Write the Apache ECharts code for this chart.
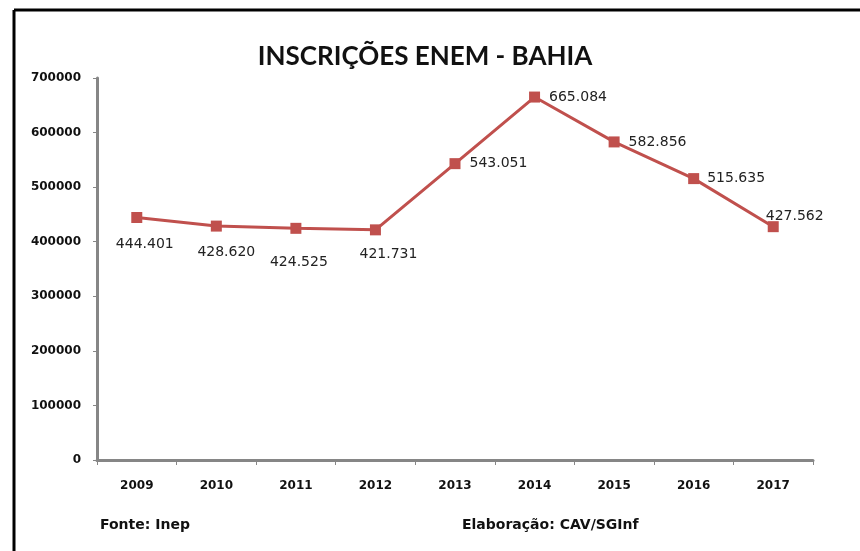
<!DOCTYPE html>
<html>
<head>
<meta charset="utf-8">
<script src="https://cdn.jsdelivr.net/npm/echarts@6/dist/echarts.min.js"></script>
<style>
html,body{margin:0;padding:0;background:#fff;}
#c{width:860px;height:551px;}
</style>
</head>
<body>
<div id="c"></div>
<script>
const categories = ['2009','2010','2011','2012','2013','2014','2015','2016','2017'];
const inscricoes = [444401, 428620, 424525, 421731, 543051, 665084, 582856, 515635, 427562];
const yTicks = [0,100000,200000,300000,400000,500000,600000,700000];
const titleText = 'INSCRIÇÕES ENEM - BAHIA';
const sourceText = 'Fonte: Inep';
const authorText = 'Elaboração: CAV/SGInf';

const TFONT = 'Lato, "Open Sans", sans-serif';
const FONT = '"DejaVu Sans", sans-serif';
const labelStyles = [
  {position:'bottom', offset:[8,8]},
  {position:'bottom', offset:[10,8]},
  {position:'bottom', offset:[3,16]},
  {position:'bottom', offset:[13,6]},
  {position:'right', offset:[3,0]},
  {position:'right', offset:[3,0]},
  {position:'right', offset:[3,0]},
  {position:'right', offset:[2,0]},
  {position:'right', offset:[-19,-10]}
];
const fmt = v => {
  const s = String(v);
  return s.slice(0, s.length-3) + '.' + s.slice(-3);
};

const chart = echarts.init(document.getElementById('c'), null, {renderer:'canvas'});
chart.setOption({
  backgroundColor:'#fff',
  animation:false,
  title:{
    text:titleText, left:420, top:39, textAlign:'center',
    textStyle:{fontFamily:TFONT, fontSize:26, fontWeight:'bold', color:'#111'}
  },
  grid:{left:97, right:47, top:78, bottom:91},
  xAxis:{
    type:'category', data:categories, boundaryGap:true,
    axisLine:{lineStyle:{color:'#868686', width:3}},
    axisTick:{show:true, length:5, lineStyle:{color:'#868686', width:1}},
    axisLabel:{margin:20, fontFamily:FONT, fontSize:12, fontWeight:'bold', color:'#111'}
  },
  yAxis:{
    type:'value', min:yTicks[0], max:yTicks[yTicks.length-1], interval:100000,
    axisLine:{show:true, lineStyle:{color:'#868686', width:3}},
    axisTick:{show:true, length:4, lineStyle:{color:'#868686', width:1}},
    splitLine:{show:false},
    axisLabel:{margin:16, fontFamily:FONT, fontSize:12, fontWeight:'bold', color:'#111', formatter:v=>String(v)}
  },
  series:[{
    type:'line',
    data: inscricoes.map((v,i)=>({value:v, label:Object.assign({}, labelStyles[i])})),
    symbol:'rect', symbolSize:11,
    lineStyle:{color:'#c0504d', width:3},
    itemStyle:{color:'#c0504d'},
    label:{show:true, formatter:p=>fmt(p.value), fontFamily:FONT, fontSize:14, color:'#222', distance:6}
  }],
  graphic:[
    {type:'line', shape:{x1:14, y1:10, x2:860, y2:10}, style:{stroke:'#000', lineWidth:3}},
    {type:'line', shape:{x1:14, y1:10, x2:14, y2:551}, style:{stroke:'#000', lineWidth:3}},
    {type:'text', left:100, top:518, style:{text:sourceText, font:'bold 14px '+FONT, fill:'#111'}},
    {type:'text', left:462, top:518, style:{text:authorText, font:'bold 14px '+FONT, fill:'#111'}}
  ]
});
</script>
</body>
</html>
